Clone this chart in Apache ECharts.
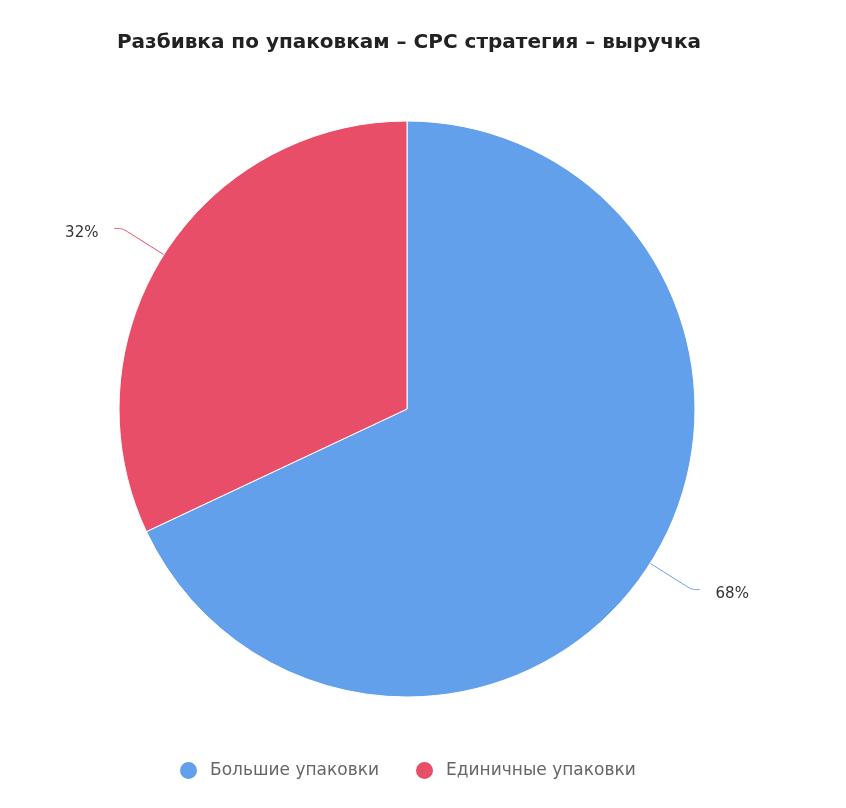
<!DOCTYPE html>
<html>
<head>
<meta charset="utf-8">
<script src="https://cdn.jsdelivr.net/npm/echarts@6/dist/echarts.min.js"></script>
<style>
html,body{margin:0;padding:0;background:#fff;}
#chart{width:846px;height:808px;}
</style>
</head>
<body>
<div id="chart"></div>
<script>
var titleText = 'Разбивка по упаковкам – CPC стратегия – выручка';
var categories = ['Большие упаковки', 'Единичные упаковки'];
var values = [68, 32];
var colors = ['#63a0eb', '#e94e68'];

var chart = echarts.init(document.getElementById('chart'), null, {renderer: 'canvas'});
var data = categories.map(function (c, i) {
  return {name: c, value: values[i], itemStyle: {color: colors[i]}};
});
chart.setOption({
  animation: false,
  textStyle: {fontFamily: 'DejaVu Sans'},
  title: {
    text: titleText,
    left: 404, top: 28, textAlign: 'center',
    textStyle: {fontFamily: 'DejaVu Sans', fontSize: 20, fontWeight: 'bold', color: '#222'}
  },
  legend: {
    top: 755, left: 173,
    icon: 'circle', itemWidth: 19, itemHeight: 19, itemGap: 35,
    textStyle: {fontFamily: 'DejaVu Sans', fontSize: 17, color: '#666', padding: [0, 0, 0, 7]},
    data: categories
  },
  series: [{
    type: 'pie',
    center: [407, 409],
    radius: [0, 288],
    startAngle: 90,
    clockwise: true,
    itemStyle: {borderColor: '#fff', borderWidth: 1},
    label: {
      formatter: '{p|{d}%}',
      distanceToLabelLine: 16,
      rich: {
        p: {fontFamily: 'DejaVu Sans', fontSize: 15, color: '#333', padding: [10, 0, 0, 0]}
      }
    },
    labelLine: {length: 49, length2: 8, smooth: true, lineStyle: {width: 1}},
    emphasis: {disabled: true},
    data: data
  }]
});
</script>
</body>
</html>
